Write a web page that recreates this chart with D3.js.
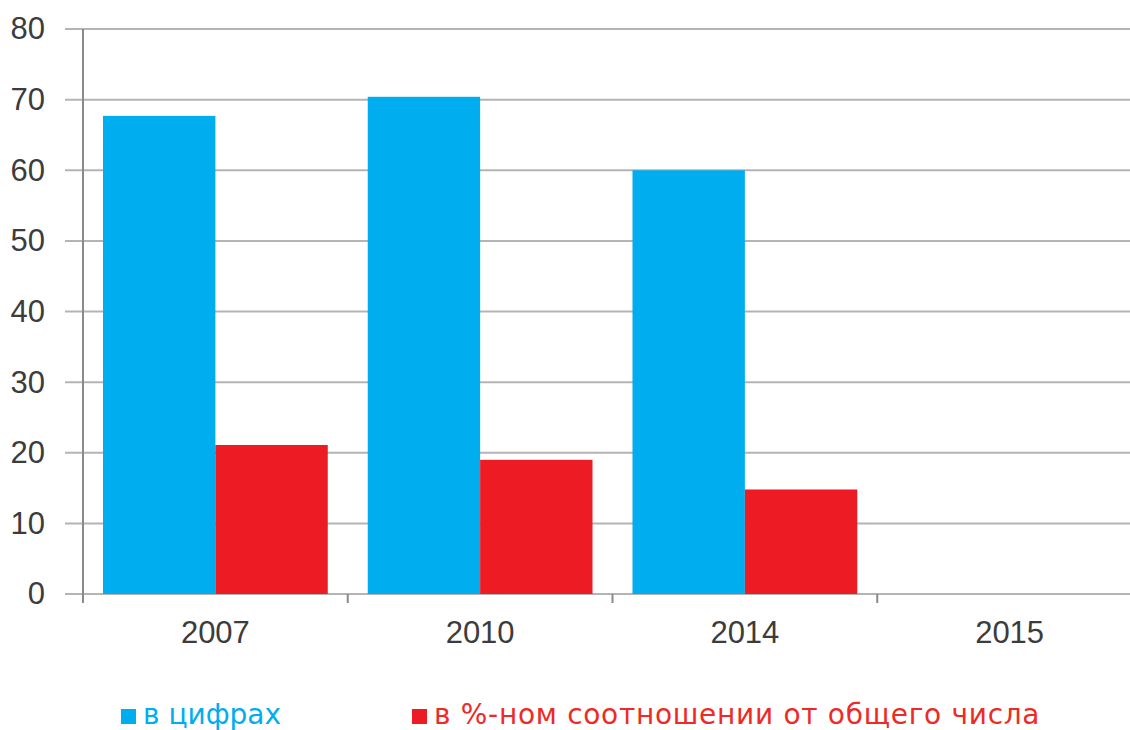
<!DOCTYPE html>
<html>
<head>
<meta charset="utf-8">
<script src="https://cdn.jsdelivr.net/npm/d3@7"></script>
<style>
  body { margin: 0; background: #fff; }
  svg { display: block; font-family: "Liberation Sans", Arial, sans-serif; }
</style>
</head>
<body>
<svg id="chart" width="1130" height="730"></svg>
<script>
// data
const years = ['2007', '2010', '2014', '2015'];
const seriesNames = ['в цифрах', 'в %-ном соотношении от общего числа'];
const numbers = [67.7, 70.4, 60.0, null];   // в цифрах
const percents = [21.1, 19.0, 14.8, null];  // в %-ном соотношении
const yTicks = [0, 10, 20, 30, 40, 50, 60, 70, 80];
const colors = ['#00aeef', '#ed1c24'];

const svg = d3.select('#chart');
const W = 1130;
const plotLeft = 83, plotRight = 1142, plotTop = 29, plotBottom = 594;

const x0 = d3.scaleBand().domain(years).range([plotLeft, plotRight]).padding(0);
const bw = x0.bandwidth();
const x1 = d3.scaleBand().domain(seriesNames).range([bw * 0.0755, bw * 0.9245]).padding(0);
const y = d3.scaleLinear().domain([0, 80]).range([plotBottom, plotTop]);

// gridlines
svg.append('g').selectAll('line')
  .data(yTicks)
  .join('line')
  .attr('x1', 65).attr('x2', W)
  .attr('y1', d => y(d)).attr('y2', d => y(d))
  .attr('stroke', '#b4b4b4')
  .attr('stroke-width', 2);

// bars
const rows = years.map((yr, i) => ({ year: yr, vals: [numbers[i], percents[i]] }));
const groups = svg.append('g').selectAll('g')
  .data(rows)
  .join('g')
  .attr('transform', d => `translate(${x0(d.year)},0)`);

groups.selectAll('rect')
  .data(d => d.vals.map((v, k) => ({ name: seriesNames[k], v, k })).filter(e => e.v != null))
  .join('rect')
  .attr('x', d => x1(d.name))
  .attr('width', x1.bandwidth())
  .attr('y', d => y(d.v))
  .attr('height', d => y(0) - y(d.v))
  .attr('fill', d => colors[d.k]);

// y axis
const yAxis = svg.append('g')
  .attr('transform', `translate(${plotLeft},0)`)
  .call(d3.axisLeft(y).tickValues(yTicks).tickSize(0).tickPadding(38));
yAxis.select('.domain').remove();
yAxis.selectAll('text')
  .style('font-size', '31px')
  .attr('fill', '#3c3c3c');
svg.append('line')
  .attr('x1', plotLeft).attr('x2', plotLeft)
  .attr('y1', plotTop).attr('y2', plotBottom + 9)
  .attr('stroke', '#8a8a8a').attr('stroke-width', 2);

// x axis labels
const xAxis = svg.append('g')
  .attr('transform', `translate(0,${plotBottom})`)
  .call(d3.axisBottom(x0).tickSize(0).tickPadding(27));
xAxis.select('.domain').remove();
xAxis.selectAll('text')
  .style('font-size', '31px')
  .attr('fill', '#3c3c3c');

// boundary tick marks
svg.append('g').selectAll('line')
  .data(years.slice(1))
  .join('line')
  .attr('x1', d => x0(d)).attr('x2', d => x0(d))
  .attr('y1', plotBottom).attr('y2', plotBottom + 9)
  .attr('stroke', '#8a8a8a').attr('stroke-width', 2);

// legend
const legendX = [121, 412];
const legend = svg.append('g').selectAll('g')
  .data(seriesNames)
  .join('g')
  .attr('transform', (d, i) => `translate(${legendX[i]},709)`);
legend.append('rect')
  .attr('width', 15).attr('height', 15)
  .attr('fill', (d, i) => colors[i]);
legend.append('text')
  .attr('x', 22).attr('y', 15)
  .style('font-family', '"DejaVu Sans", sans-serif')
  .style('font-size', '28px')
  .style('letter-spacing', (d, i) => i === 0 ? '0px' : '0.7px')
  .attr('fill', (d, i) => i === 0 ? '#00aeef' : '#ee2a24')
  .text(d => d);
</script>
</body>
</html>
